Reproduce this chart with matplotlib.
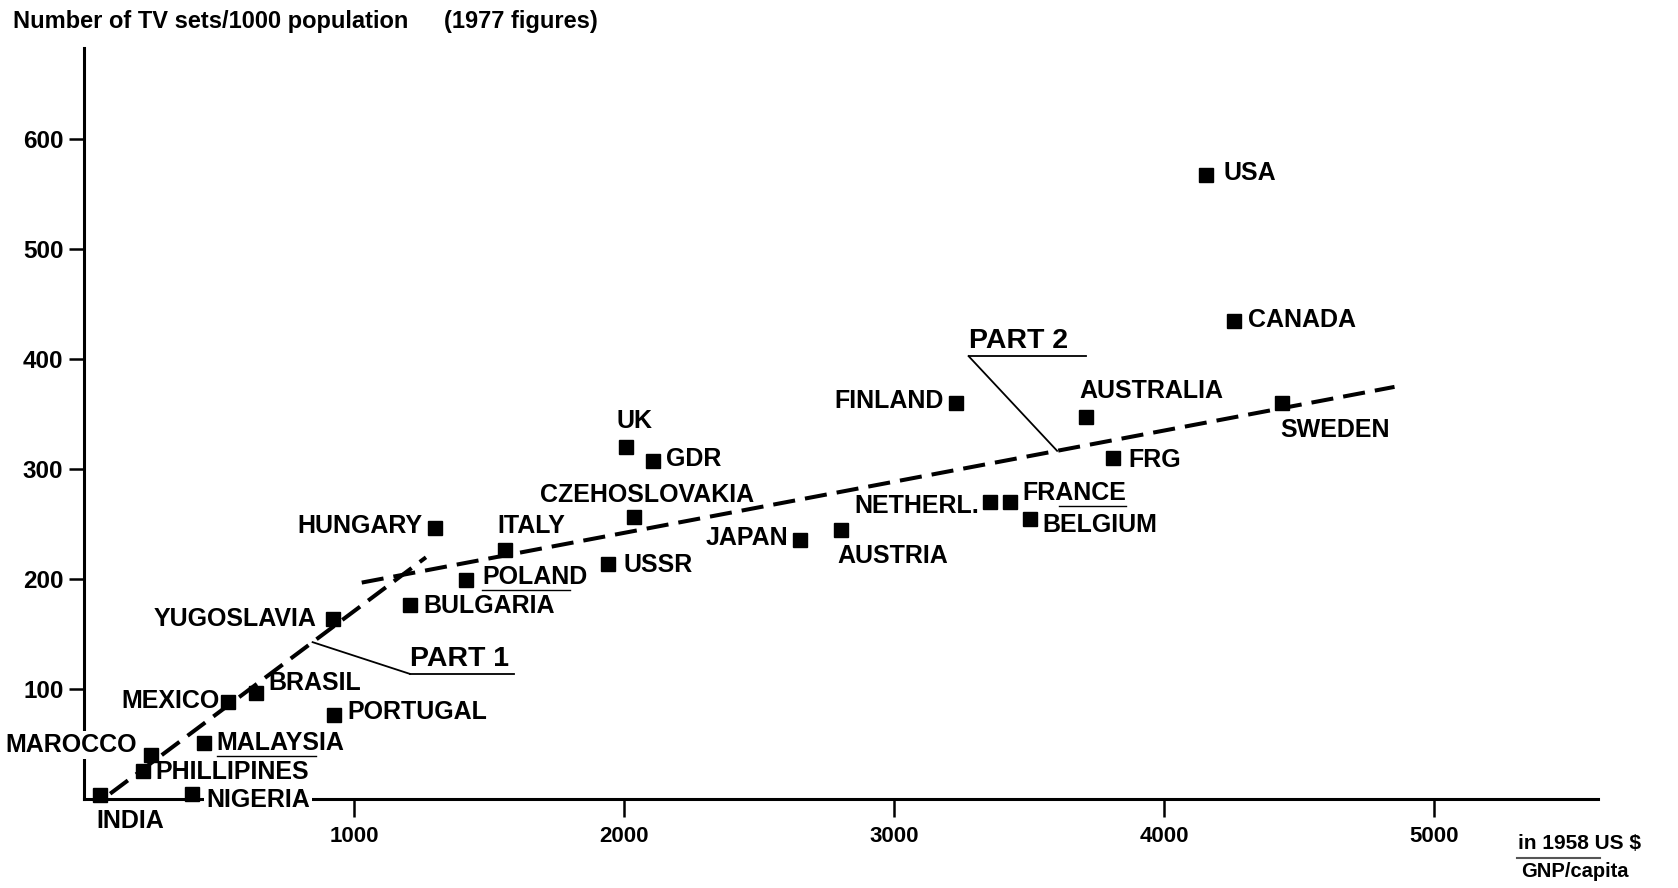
import numpy as np
import matplotlib.pyplot as plt

plt.rcParams['font.family'] = ['Liberation Sans', 'DejaVu Sans']

# values (1977 figures)
countries = ['USA', 'CANADA', 'SWEDEN', 'AUSTRALIA', 'FRG', 'FINLAND',
             'FRANCE', 'NETHERL.', 'BELGIUM', 'AUSTRIA', 'JAPAN', 'UK',
             'GDR', 'CZEHOSLOVAKIA', 'USSR', 'ITALY', 'HUNGARY', 'POLAND',
             'BULGARIA', 'YUGOSLAVIA', 'BRASIL', 'MEXICO', 'PORTUGAL',
             'MALAYSIA', 'MAROCCO', 'PHILLIPINES', 'NIGERIA', 'INDIA']
gnp_per_capita = [4155, 4258, 4437, 3712, 3810, 3230,
                  3429, 3357, 3504, 2805, 2651, 2008,
                  2107, 2035, 1940, 1560, 1298, 1413,
                  1205, 921, 635, 532, 925,
                  444, 246, 218, 401, 60]
tv_per_1000 = [568, 435, 360, 348, 310, 360,
               270, 270, 255, 245, 236, 320,
               308, 257, 214, 227, 247, 199,
               177, 164, 97, 88, 77,
               51, 40, 26, 5, 4]

# label placement relative to the marker: dx, dy (points), alignment
label_place = [(13, 1.5, 'left'), (10, 1, 'left'), (-1.5, -19, 'left'),
               (-5, 18.5, 'left'), (11.5, -1.5, 'left'), (-9, 2, 'right'),
               (9, 7, 'left'), (-8, -3, 'right'), (9, -4.6, 'left'),
               (-3, -18.5, 'left'), (-8.5, 1.5, 'right'), (-7, 19, 'left'),
               (9, 1, 'left'), (10, 15.5, 'center'), (11, -1, 'left'),
               (-5.4, 17, 'left'), (-8.5, 1.5, 'right'), (12, 2.3, 'left'),
               (10, -1, 'left'), (-11.5, 0, 'right'), (9, 7, 'left'),
               (-6, 1, 'right'), (10, 1.5, 'left'),
               (9, 0, 'left'), (-10, 7, 'right'), (9, -1, 'left'),
               (10, -4.6, 'left'), (-3, -19, 'left')]
# labels that sit on an axis line (white patch behind)
on_axis = ['MAROCCO', 'NIGERIA']
# partial rules under some labels (fraction of label width covered)
underlined = {'FRANCE': (0.35, 1.0), 'POLAND': (0.0, 0.83),
              'MALAYSIA': (0.0, 0.78)}

# the two dashed trend lines
part1_gnp = [96, 1266]
part1_tv = [5, 220]
part2_gnp = [1028, 4854]
part2_tv = [197, 375]

# PART labels: name, underline start/end x, underline y, leader target x
part_names = ['PART 2', 'PART 1']
part_line_x0 = [3276, 1206]
part_line_x1 = [3711, 1591]
part_line_y = [403, 114]
part_target_x = [3604, 846]

x_ticks = [1000, 2000, 3000, 4000, 5000]
y_ticks = [100, 200, 300, 400, 500, 600]

fig = plt.figure(figsize=(16.78, 8.88), dpi=100)
ax = fig.add_axes([0.0502, 0.100, 0.902, 0.8457])
ax.set_xlim(0, 5607)
ax.set_ylim(0, 683)

for side in ['top', 'right']:
    ax.spines[side].set_visible(False)
for side in ['left', 'bottom']:
    ax.spines[side].set_linewidth(2.2)

ax.set_xticks(x_ticks)
ax.set_yticks(y_ticks)
ax.tick_params(axis='x', length=13, width=1.8, pad=6, labelsize=16)
ax.tick_params(axis='y', length=11, width=1.8, pad=4, labelsize=17.5)
for lbl in ax.get_xticklabels() + ax.get_yticklabels():
    lbl.set_fontweight('bold')

dash_style = dict(color='black', lw=2.9, dashes=(5.5, 2.5),
                  solid_capstyle='butt', clip_on=False, zorder=3)
ax.plot(part1_gnp, part1_tv, **dash_style)
ax.plot(part2_gnp, part2_tv, **dash_style)

ax.plot(gnp_per_capita, tv_per_1000, 's', color='black', markersize=9.5,
        clip_on=False, zorder=4)

labels = {}
for name, x, y, (dx, dy, ha) in zip(countries, gnp_per_capita, tv_per_1000,
                                    label_place):
    extra = {}
    if name in on_axis:
        extra['bbox'] = dict(facecolor='white', edgecolor='none', pad=1.5)
    labels[name] = ax.annotate(name, (x, y), xytext=(dx, dy),
                               textcoords='offset points', ha=ha,
                               va='center', fontsize=18, fontweight='bold',
                               annotation_clip=False, zorder=5, **extra)

for name, x0, x1, y, tx in zip(part_names, part_line_x0, part_line_x1,
                               part_line_y, part_target_x):
    if tx < part2_gnp[0]:
        ty = np.interp(tx, part1_gnp, part1_tv)
    else:
        ty = np.interp(tx, part2_gnp, part2_tv)
    ax.plot([x0, x1], [y, y], color='black', lw=1.3)
    ax.plot([x0, tx], [y, ty], color='black', lw=1.3)
    ax.annotate(name, (x0, y), xytext=(0.5, 6), textcoords='offset points',
                ha='left', va='baseline', fontsize=20.5, fontweight='bold')

fig.text(13 / 1678, 0.976, 'Number of TV sets/1000 population',
         fontsize=17, fontweight='bold', va='center', ha='left')
fig.text(444 / 1678, 0.976, '(1977 figures)',
         fontsize=17, fontweight='bold', va='center', ha='left')

fig.text(1518 / 1678, 1 - 843 / 888, 'in 1958 US $', fontsize=15,
         fontweight='bold', va='center', ha='left')
fig.text(1521 / 1678, 1 - 871 / 888, 'GNP/capita', fontsize=14.5,
         fontweight='bold', va='center', ha='left')
fig.add_artist(plt.Line2D([1517 / 1678, 1600 / 1678],
                          [1 - 858 / 888, 1 - 858 / 888],
                          color='#555555', lw=1.5))

# thin rules under some labels, as in the printed original
fig.canvas.draw()
inv = fig.transFigure.inverted()
for name, (f0, f1) in underlined.items():
    bb = labels[name].get_window_extent()
    ux0 = bb.x0 + f0 * bb.width
    ux1 = bb.x0 + f1 * bb.width
    (fx0, fy), (fx1, _) = inv.transform([(ux0, bb.y0 - 1), (ux1, bb.y0)])
    fig.add_artist(plt.Line2D([fx0, fx1], [fy, fy], color='black', lw=1.0))

fig.savefig('out.png', dpi=100)
